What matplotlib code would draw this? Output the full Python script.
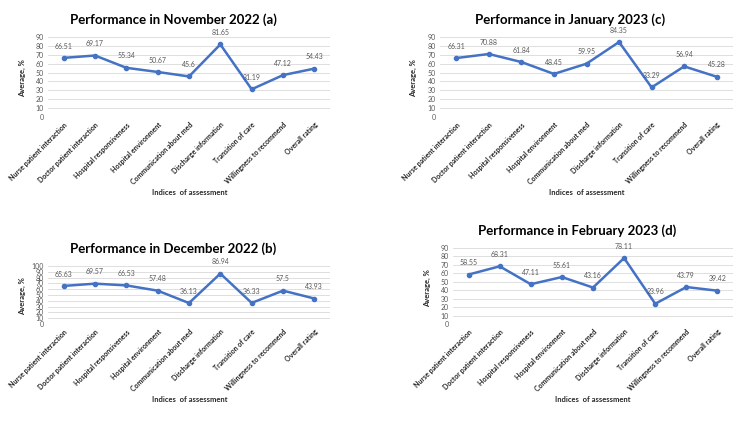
import matplotlib
matplotlib.use("Agg")
import matplotlib.pyplot as plt

plt.rcParams['font.family'] = ['Lato', 'DejaVu Sans']

categories = ['Nurse patient interaction', 'Doctor patient interaction', 'Hospital responsiveness',
              'Hospital environment', 'Communication about med', 'Discharge information',
              'Transition of care', 'Willingness to recommend', 'Overall rating']

nov_2022 = [66.51, 69.17, 55.34, 50.67, 45.6, 81.65, 31.19, 47.12, 54.43]
dec_2022 = [65.63, 69.57, 66.53, 57.48, 36.13, 86.94, 36.33, 57.5, 43.93]
jan_2023 = [66.31, 70.88, 61.84, 48.45, 59.95, 84.35, 33.29, 56.94, 45.28]
feb_2023 = [58.55, 68.31, 47.11, 55.61, 43.16, 78.11, 23.96, 43.79, 39.42]

titles = ['Performance in November 2022 (a)', 'Performance in December 2022 (b)',
          'Performance in January 2023 (c)', 'Performance in February 2023 (d)']
ymax = [90, 100, 90, 90]

W, H = 750, 422
blue = '#4472C4'

# pixel layout: plot box (left, right, top, bottom), title xy, xlabel xy, ylabel xy
layout = [
    dict(box=(48, 330, 37, 117), title=(173, 20), xl=(190, 192), yl=(22, 78)),
    dict(box=(48, 330, 266, 324), title=(173, 249), xl=(190, 399), yl=(22, 296)),
    dict(box=(440, 733, 37, 117), title=(570, 20), xl=(587, 192), yl=(413, 78)),
    dict(box=(453, 733, 248, 324), title=(577, 231), xl=(593, 399), yl=(427, 288)),
]
series = [nov_2022, dec_2022, jan_2023, feb_2023]

fig = plt.figure(figsize=(W / 100, H / 100), dpi=100)
fig.patch.set_facecolor('white')

for vals, title, top, lay in zip(series, titles, ymax, layout):
    l, r, t, b = lay['box']
    ax = fig.add_axes([l / W, 1 - b / H, (r - l) / W, (b - t) / H])
    x = range(len(categories))
    ax.plot(x, vals, color=blue, lw=1.8, marker='o', ms=3)
    for xi, v in zip(x, vals):
        ax.annotate(f'{v:g}', (xi, v), xytext=(0, 6), textcoords='offset points',
                    ha='center', va='bottom', fontsize=5, color='#595959')
    ax.set_xlim(-0.5, len(categories) - 0.5)
    ax.set_ylim(0, top)
    ax.set_yticks(range(0, top + 1, 10))
    ax.grid(axis='y', color='#D9D9D9', lw=0.6)
    ax.set_axisbelow(True)
    for s in ax.spines.values():
        s.set_visible(False)
    ax.tick_params(length=0, labelsize=5, colors='#595959', pad=3)
    ax.set_xticks(list(x))
    ax.set_xticklabels(categories, rotation=45, ha='right', rotation_mode='anchor',
                       fontsize=5, color='#262626', fontweight='bold')
    fig.text(lay['title'][0] / W, 1 - lay['title'][1] / H, title, ha='center', va='center',
             fontsize=9.5, fontweight='bold')
    fig.text(lay['xl'][0] / W, 1 - lay['xl'][1] / H, 'Indices  of assessment', ha='center',
             va='center', fontsize=5.5, fontweight='bold', color='#262626')
    fig.text(lay['yl'][0] / W, 1 - lay['yl'][1] / H, 'Average, %', ha='center', va='center',
             rotation=90, fontsize=5.5, fontweight='bold', color='#262626')

fig.savefig('out.png', dpi=100)
